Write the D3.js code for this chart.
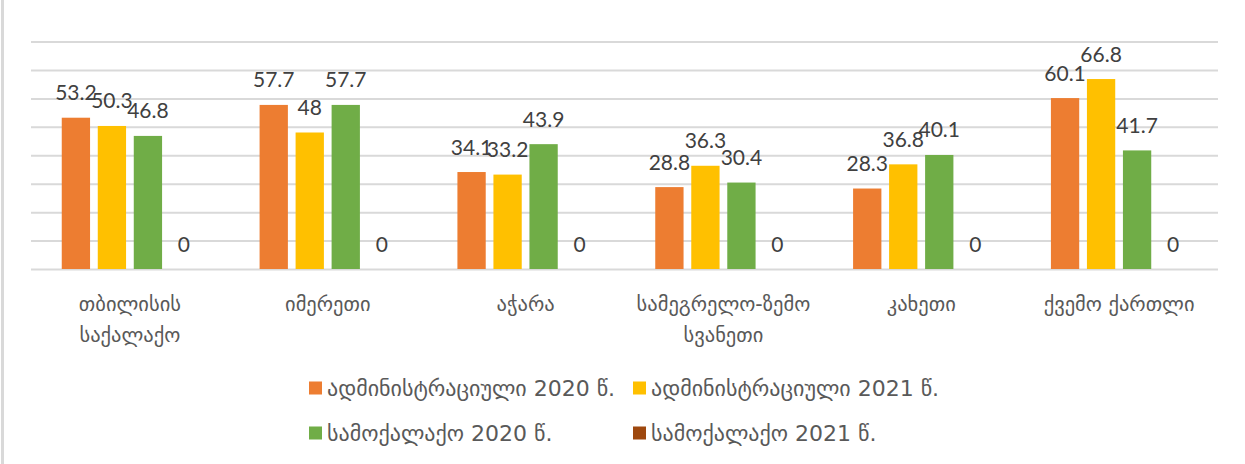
<!DOCTYPE html>
<html>
<head>
<meta charset="utf-8">
<script src="https://cdn.jsdelivr.net/npm/d3@7"></script>
<style>
  html, body { margin: 0; padding: 0; background: #fff; }
  svg { display: block; }
</style>
</head>
<body>
<svg id="chart" width="1245" height="464"></svg>
<script>
const categories = ["თბილისის საქალაქო", "იმერეთი", "აჭარა", "სამეგრელო-ზემო სვანეთი", "კახეთი", "ქვემო ქართლი"];
const seriesNames = ["ადმინისტრაციული 2020 წ.", "ადმინისტრაციული 2021 წ.", "სამოქალაქო 2020 წ.", "სამოქალაქო 2021 წ."];
const admin2020 = [53.2, 57.7, 34.1, 28.8, 28.3, 60.1];
const admin2021 = [50.3, 48, 33.2, 36.3, 36.8, 66.8];
const civil2020 = [46.8, 57.7, 43.9, 30.4, 40.1, 41.7];
const civil2021 = [0, 0, 0, 0, 0, 0];
const seriesValues = [admin2020, admin2021, civil2020, civil2021];
const colors = ["#ED7D31", "#FFC000", "#70AD47", "#9E480E"];
const yTicks = [0, 10, 20, 30, 40, 50, 60, 70, 80];

const svg = d3.select("#chart");
const W = 1245, H = 464;
const plot = { left: 31, right: 1218, top: 41.5, bottom: 269 };

// left border of chart frame
svg.append("line").attr("x1", 2.5).attr("x2", 2.5).attr("y1", 0).attr("y2", H)
  .attr("stroke", "#d9d9d9").attr("stroke-width", 3);

const x0 = d3.scaleBand().domain(categories).range([plot.left, plot.right]).paddingInner(0).paddingOuter(0);
const bw = x0.bandwidth();
const x1 = d3.scaleBand().domain(seriesNames).range([0, bw]).paddingInner(0.214).paddingOuter(0.854);
const y = d3.scaleLinear().domain([0, 80]).range([plot.bottom, plot.top]);

// gridlines
const yAxis = d3.axisLeft(y).tickValues(yTicks).tickSize(-(plot.right - plot.left)).tickFormat("");
const gy = svg.append("g").attr("transform", `translate(${plot.left},0)`).call(yAxis);
gy.select(".domain").remove();
gy.selectAll(".tick line").attr("stroke", "#d9d9d9").attr("stroke-width", 2);

// bars
const rows = categories.map((c, i) => ({ cat: c, vals: seriesNames.map((s, j) => ({ s, j, v: seriesValues[j][i] })) }));
const groups = svg.append("g").selectAll("g").data(rows).join("g")
  .attr("transform", d => `translate(${x0(d.cat)},0)`);
groups.selectAll("rect").data(d => d.vals).join("rect")
  .attr("x", d => x1(d.s)).attr("width", x1.bandwidth())
  .attr("y", d => y(d.v)).attr("height", d => y(0) - y(d.v))
  .attr("fill", d => colors[d.j]);
groups.selectAll("text").data(d => d.vals).join("text")
  .attr("x", d => x1(d.s) + x1.bandwidth() / 2)
  .attr("y", d => y(d.v) - 17.5)
  .attr("text-anchor", "middle")
  .attr("font-family", "Lato, 'DejaVu Sans', sans-serif")
  .attr("font-size", 21)
  .attr("fill", "#404040")
  .text(d => d3.format("~g")(d.v));

// category axis
const xAxis = d3.axisBottom(x0).tickSize(0).tickPadding(0);
const gx = svg.append("g").attr("transform", `translate(0,${plot.bottom})`).call(xAxis);
gx.select(".domain").remove();
const catFont = 20.5;
gx.selectAll(".tick text").each(function(d) {
  const t = d3.select(this);
  t.text(null).attr("y", 0).attr("dy", null)
   .attr("font-family", "'DejaVu Sans', sans-serif").attr("font-size", catFont)
   .attr("fill", "#595959");
  const words = d.split(" ");
  let lines = [], cur = [];
  const tmp = t.append("tspan");
  words.forEach(w => {
    const test = cur.concat(w).join(" ");
    tmp.text(test);
    if (tmp.node().getComputedTextLength() > 190 && cur.length) { lines.push(cur.join(" ")); cur = [w]; }
    else cur.push(w);
  });
  lines.push(cur.join(" "));
  tmp.remove();
  lines.forEach((ln, k) => t.append("tspan").attr("x", 0).attr("y", 42 + k * 31).text(ln));
});

// legend
const legendPos = [[309, 388], [633, 388], [309, 433], [633, 433]];
const lg = svg.append("g").selectAll("g").data(seriesNames).join("g")
  .attr("transform", (d, i) => `translate(${legendPos[i][0]},${legendPos[i][1]})`);
lg.append("rect").attr("x", 0).attr("y", -6.5).attr("width", 13).attr("height", 13)
  .attr("fill", (d, i) => colors[i]);
lg.append("text").attr("x", 18).attr("y", 0).attr("dy", "0.35em")
  .attr("font-family", "'DejaVu Sans', sans-serif").attr("font-size", 22)
  .attr("fill", "#595959").text(d => d);
</script>
</body>
</html>
